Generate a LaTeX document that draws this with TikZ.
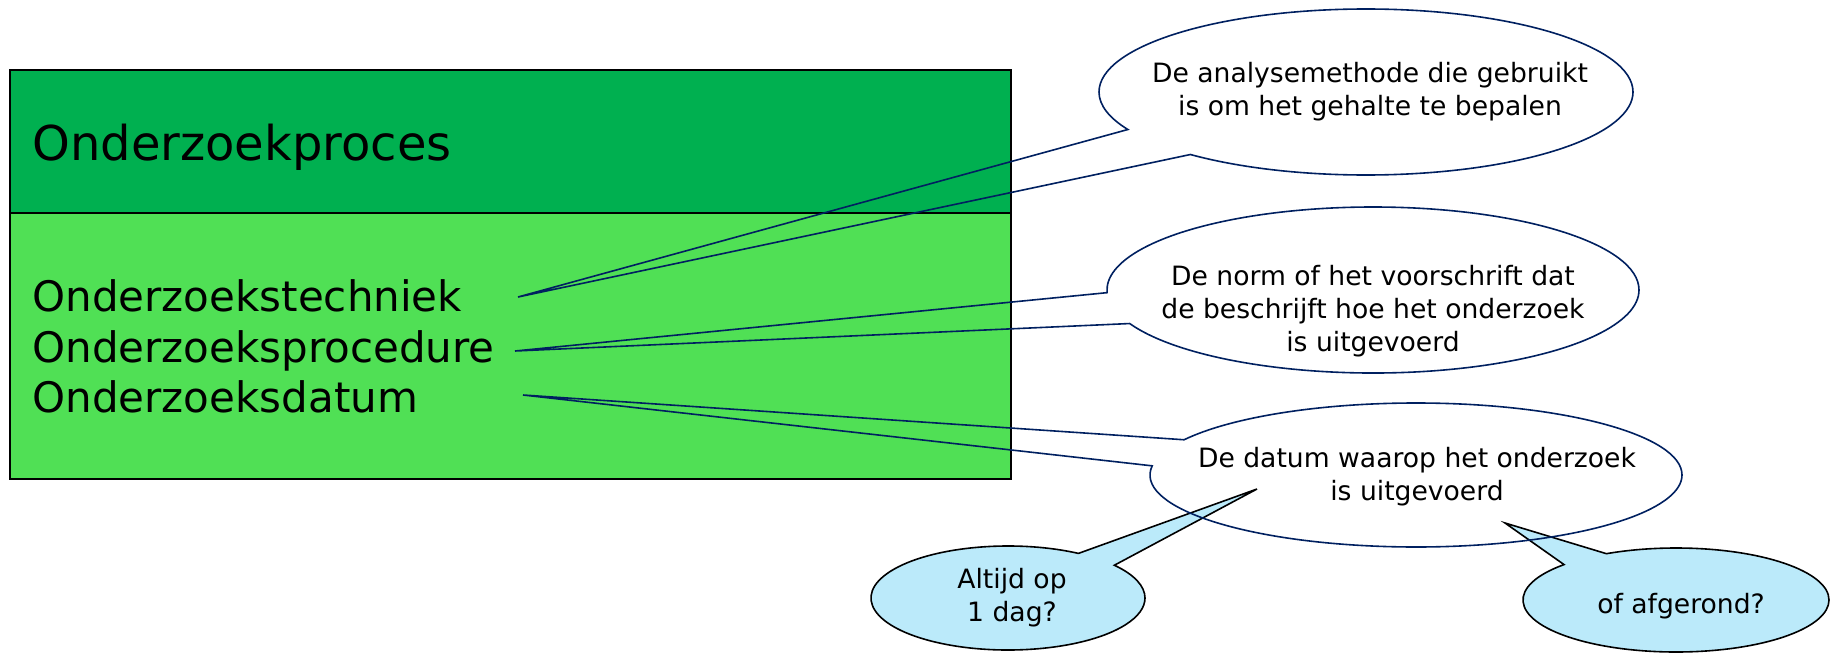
\documentclass[tikz,border=0pt]{standalone}
\usepackage{fontspec}
\setmainfont{DejaVu Sans}
\usetikzlibrary{shapes.callouts}

\definecolor{headgreen}{RGB}{0,176,80}
\definecolor{bodygreen}{RGB}{80,224,85}
\definecolor{notenavy}{RGB}{0,32,96}
\definecolor{noteblue}{RGB}{187,234,250}

\begin{document}
\begin{tikzpicture}[x=0.5pt,y=-0.5pt,
  whitenote/.style={ellipse callout, draw=notenavy, line width=0.8pt, inner sep=0pt, callout pointer arc=22},
  bluenote/.style={ellipse callout, draw=black, fill=noteblue, line width=0.8pt, inner sep=0pt, callout pointer arc=20},
  notetext/.style={align=center, inner sep=0pt, font=\fontsize{13.3}{16.5}\selectfont},
  item/.style={anchor=base west, inner sep=0pt, font=\fontsize{21}{25.5}\selectfont}]
\useasboundingbox (0,0) rectangle (1836,653);
% Draw table
\draw[line width=0.75pt, fill=headgreen] (10,70) rectangle (1011,213);
\draw[line width=0.75pt, fill=bodygreen] (10,213) rectangle (1011,479);
\node[anchor=base west, inner sep=0pt, font=\fontsize{24}{29}\selectfont] (proces) at (32,160) {Onderzoekproces};
\node[item] (techniek) at (32,311) {Onderzoekstechniek};
\node[item] (procedure) at (32,362) {Onderzoeksprocedure};
\node[item] (datum) at (32,412) {Onderzoeksdatum};
% Tips of the callouts
\coordinate (tip-techniek) at (518,297);
\coordinate (tip-procedure) at (515,351);
\coordinate (tip-datum) at (523,395);
\coordinate (tip-dag) at (1257,489);
\coordinate (tip-afgerond) at (1505,523);
% Draw blue callouts
\node[bluenote, minimum width=137pt, minimum height=52pt,
  callout absolute pointer={(tip-dag)}] (dag) at (1008,598) {};
\node[notetext] (dag-text) at (1012,598) {Altijd op\\1 dag?};
\node[bluenote, minimum width=153pt, minimum height=52pt,
  callout absolute pointer={(tip-afgerond)}] (afgerond) at (1676,600) {};
\node[notetext] (afgerond-text) at (1681,606) {of afgerond?};
% Draw white callouts
\node[whitenote, minimum width=267pt, minimum height=83pt,
  callout absolute pointer={(tip-techniek)}] (analyse) at (1366,92) {};
\node[notetext] (analyse-text) at (1370,92) {De analysemethode die gebruikt\\is om het gehalte te bepalen};
\node[whitenote, minimum width=266pt, minimum height=83pt,
  callout absolute pointer={(tip-procedure)}] (norm) at (1373,290) {};
\node[notetext] (norm-text) at (1373,311) {De norm of het voorschrift dat\\de beschrijft hoe het onderzoek\\is uitgevoerd};
\node[whitenote, minimum width=266pt, minimum height=72pt,
  callout absolute pointer={(tip-datum)}] (waarop) at (1416,475) {};
\node[notetext] (waarop-text) at (1417,477) {De datum waarop het onderzoek\\is uitgevoerd};
\end{tikzpicture}
\end{document}
